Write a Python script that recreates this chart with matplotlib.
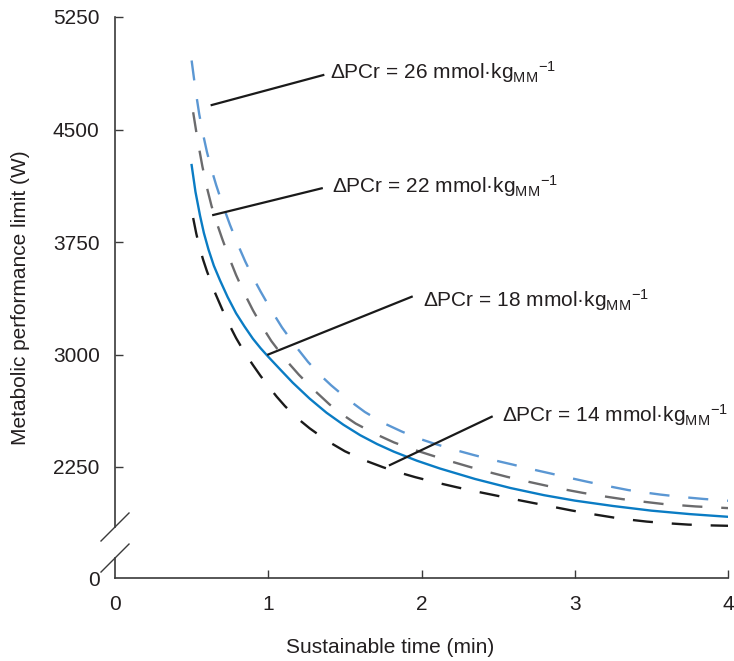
import matplotlib
matplotlib.use('Agg')
import matplotlib.pyplot as plt
import matplotlib.transforms as mtransforms

plt.rcParams['font.family'] = ['Liberation Sans', 'DejaVu Sans']
plt.rcParams['mathtext.fontset'] = 'custom'
plt.rcParams['mathtext.rm'] = 'Liberation Sans'
plt.rcParams['mathtext.it'] = 'Liberation Sans:italic'
plt.rcParams['mathtext.bf'] = 'Liberation Sans:bold'

#  curves: sustainable time (min) vs metabolic limit (W)
t_26 = [0.50, 0.525, 0.55, 0.575, 0.60, 0.63, 0.66, 0.70, 0.75, 0.80, 0.85, 0.90, 0.95,
        1.02, 1.09, 1.175, 1.26, 1.335, 1.41, 1.52, 1.63, 1.75, 1.87, 1.97, 2.07, 2.20,
        2.34, 2.47, 2.60, 2.72, 2.85, 2.96, 3.08, 3.20, 3.35, 3.45, 3.56, 3.70, 3.84, 4.00]
p_26 = [4960, 4766, 4600, 4467, 4350, 4233, 4130, 4006, 3865, 3737, 3620, 3515, 3420,
        3295, 3180, 3060, 2950, 2867, 2795, 2700, 2617, 2544, 2487, 2444, 2410, 2369,
        2330, 2296, 2265, 2235, 2205, 2179, 2152, 2126, 2096, 2081, 2066, 2050, 2037, 2025]

t_22 = [0.51, 0.54, 0.57, 0.60, 0.63, 0.665, 0.70, 0.745, 0.79, 0.845, 0.90, 0.96, 1.02,
        1.11, 1.20, 1.30, 1.40, 1.485, 1.57, 1.70, 1.82, 1.945, 2.07, 2.19, 2.31, 2.435,
        2.56, 2.70, 2.83, 2.94, 3.05, 3.18, 3.31, 3.445, 3.58, 3.79, 4.00]
p_22 = [4615, 4423, 4255, 4112, 3990, 3874, 3770, 3645, 3530, 3406, 3295, 3187, 3090,
        2969, 2865, 2762, 2667, 2599, 2540, 2470, 2414, 2367, 2326, 2288, 2252, 2217,
        2184, 2151, 2122, 2099, 2078, 2056, 2036, 2019, 2003, 1987, 1976]

t_18 = [0.50, 0.525, 0.555, 0.58, 0.61, 0.645, 0.685, 0.735, 0.79, 0.845, 0.90, 0.95,
        1.00, 1.08, 1.16, 1.27, 1.38, 1.49, 1.60, 1.71, 1.82, 1.97, 2.12, 2.35, 2.58,
        2.80, 3.00, 3.25, 3.50, 3.75, 4.00]
p_18 = [4263, 4085, 3925, 3810, 3700, 3592, 3495, 3383, 3275, 3187, 3105, 3042,
        2985, 2898, 2812, 2706, 2612, 2532, 2462, 2403, 2352, 2292, 2240, 2170, 2110,
        2062, 2026, 1990, 1959, 1936, 1918]

t_14 = [0.51, 0.53, 0.55, 0.575, 0.60, 0.65, 0.70, 0.745, 0.79, 0.845, 0.90, 0.95, 1.00,
        1.055, 1.11, 1.19, 1.27, 1.385, 1.50, 1.625, 1.75, 1.855, 1.96, 2.095, 2.23,
        2.365, 2.50, 2.605, 2.71, 2.845, 2.98, 3.12, 3.26, 3.365, 3.47, 3.605, 3.74,
        3.87, 4.00]
p_14 = [3910, 3808, 3720, 3632, 3555, 3418, 3300, 3200, 3110, 3014, 2930, 2857, 2790,
        2719, 2655, 2575, 2508, 2424, 2355, 2296, 2248, 2213, 2182, 2147, 2115,
        2085, 2057, 2035, 2014, 1987, 1960, 1935, 1912, 1898, 1886, 1875, 1866,
        1861, 1858]

dpcr = [26, 22, 18, 14]

x_ticks = [0, 1, 2, 3, 4]
y_ticks = [2250, 3000, 3750, 4500, 5250]

#  broken y axis: the bottom of the axis stands for 0 W
y_floor = 1510
break_lo, break_hi = 1643, 1850

#  leader lines (tip on curve -> end near label) and label anchors
tip_t = [0.631, 0.641, 1.0, 1.794]
tip_p = [4663, 3930, 3000, 2263]
end_t = [1.359, 1.349, 1.936, 2.458]
end_p = [4863, 4108, 3385, 2585]
lab_t = [1.403, 1.414, 2.008, 2.523]
lab_p = [4835, 4075, 3319, 2552]

ink = '#231f20'
axis_col = '#3a3a3a'


def main():
	fig = plt.figure(figsize=(7.34, 6.61), dpi=100)
	ax = fig.add_axes([115 / 734, 83 / 661, 613 / 734, 561 / 661])

	dash = (0, (8.5, 8))
	ax.plot(t_26, p_26, color='#5b97d3', lw=1.7, linestyle=dash)
	ax.plot(t_22, p_22, color='#6b6b6d', lw=1.7, linestyle=dash)
	ax.plot(t_18, p_18, color='#0a7cc4', lw=1.7)
	ax.plot(t_14, p_14, color='#1a1a1a', lw=1.7, linestyle=dash)

	for i in range(len(dpcr)):
		ax.plot([tip_t[i], end_t[i]], [tip_p[i], end_p[i]], color='#1a1a1a', lw=1.6)
		txt = r'ΔPCr = %d mmol·kg$_{\mathrm{MM}}$$^{-1}$' % dpcr[i]
		ax.text(lab_t[i], lab_p[i], txt, fontsize=15, color=ink, ha='left', va='baseline')

	ax.set_xlim(0, 4)
	ax.set_ylim(y_floor, 5250)
	ax.set_xticks(x_ticks)
	ax.set_xticklabels([str(v) for v in x_ticks])
	ax.set_yticks([y_floor] + y_ticks)
	ax.set_yticklabels(['0'] + [str(v) for v in y_ticks])
	ax.tick_params(direction='in', length=5.8, width=1, pad=11, labelsize=15,
		colors=axis_col, labelcolor=ink)
	ax.tick_params(axis='x', pad=12.5)
	ax.yaxis.get_major_ticks()[0].tick1line.set_visible(False)
	ax.xaxis.get_major_ticks()[0].tick1line.set_visible(False)

	for s in ['top', 'right', 'left']:
		ax.spines[s].set_visible(False)
	ax.spines['bottom'].set_color(axis_col)
	ax.spines['bottom'].set_linewidth(1.2)

	# left spine in two pieces with break marks
	trans = mtransforms.blended_transform_factory(ax.transAxes, ax.transData)
	ax.plot([0, 0], [y_floor, break_lo], color=axis_col, lw=1.2, transform=trans, clip_on=False)
	ax.plot([0, 0], [break_hi, 5250], color=axis_col, lw=1.2, transform=trans, clip_on=False)
	ax_w = 613.0
	ax_h = 561.0
	dx = 14 / ax_w
	dy = 14 * (5250 - y_floor) / ax_h
	for yb in (break_lo, break_hi):
		ax.plot([-dx, dx], [yb - dy, yb + dy], color=axis_col, lw=1.0,
			transform=trans, clip_on=False)

	fig.text(390 / 734, 8 / 661, 'Sustainable time (min)', fontsize=15, color=ink,
		ha='center', va='baseline')
	fig.text(21 / 734, 1 - 298 / 661, 'Metabolic performance limit (W)', fontsize=15,
		color=ink, rotation=90, ha='center', va='center')

	fig.savefig('out.png', dpi=100)


if __name__ == '__main__':
	main()
